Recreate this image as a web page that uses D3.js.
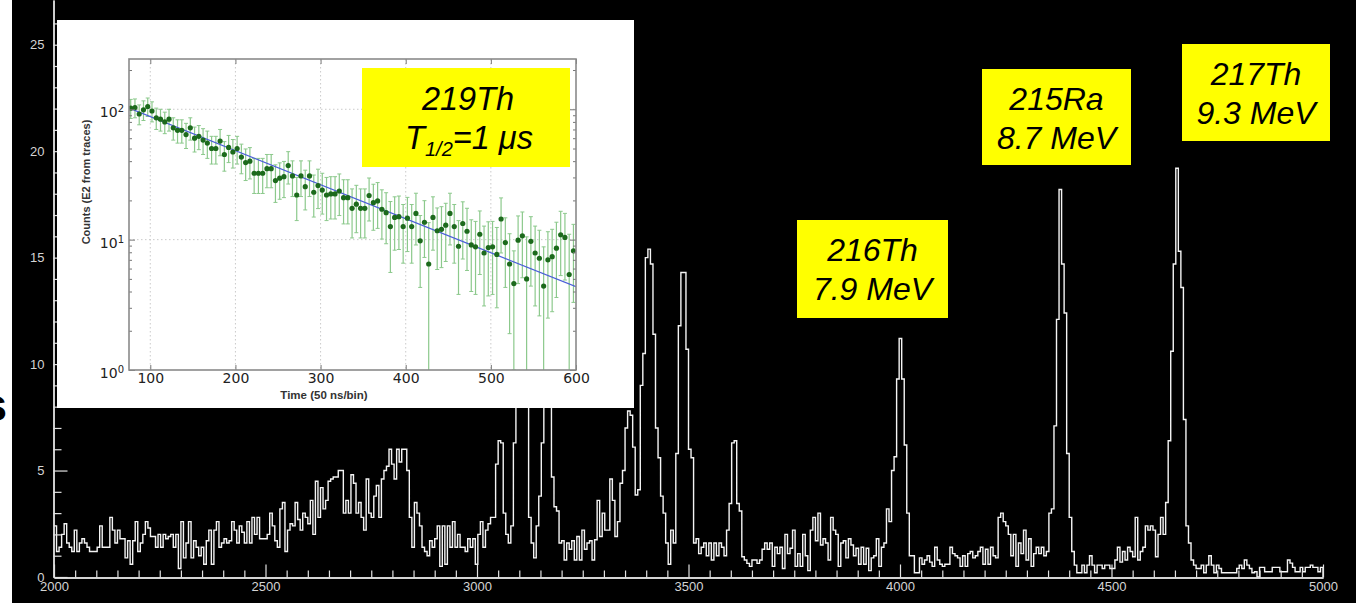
<!DOCTYPE html>
<html><head><meta charset="utf-8">
<script src="https://cdn.jsdelivr.net/npm/d3@7"></script>
<style>
html,body{margin:0;padding:0;background:#fff;}
svg{display:block;}
</style></head><body>
<svg id="chart" width="1356" height="603"></svg>
<script>
// ---- alpha energy spectrum (6 keV bins from 2000 to 5000) ----
const binStart = 2000;
const binWidth = 6;
const counts = [
  2.4,1.2,1.4,2.0,2.5,1.6,1.4,1.2,2.2,1.2,
  1.6,1.8,1.6,1.4,1.2,1.2,1.2,1.4,2.4,1.4,
  1.4,1.4,2.8,2.2,1.6,2.2,1.8,1.8,0.9,1.7,
  0.6,1.7,2.6,1.2,1.6,2.0,2.6,2.3,1.9,1.9,
  1.4,2.0,1.4,2.0,1.8,1.9,2.0,1.4,2.0,0.4,
  2.6,0.9,1.6,2.6,0.9,1.7,1.4,1.0,1.4,0.6,
  1.7,2.2,0.6,2.2,2.6,1.4,1.6,1.8,1.6,1.7,
  2.6,2.2,1.6,2.4,2.1,1.6,2.6,1.6,2.8,2.0,
  2.8,1.8,1.8,1.8,2.0,3.0,2.4,1.7,1.4,3.2,
  3.5,1.2,2.2,2.5,2.4,3.5,2.7,2.2,3.0,2.8,
  2.5,3.6,2.0,4.5,2.8,4.2,3.2,3.6,4.5,4.6,
  4.7,4.7,5.0,5.0,3.0,3.6,3.0,4.8,4.4,3.0,
  3.5,2.8,2.2,4.6,3.0,2.8,3.8,4.3,2.8,4.6,
  5.0,5.2,6.0,5.3,4.6,6.0,5.4,6.0,6.0,5.0,
  2.8,1.4,3.5,3.0,2.4,1.4,1.2,1.0,1.7,1.4,
  1.8,2.4,0.5,2.4,0.6,2.4,1.4,2.6,1.4,2.0,
  1.4,1.4,1.2,1.8,1.4,1.8,0.6,2.0,2.6,1.4,
  2.2,2.5,2.8,2.8,5.3,6.4,6.3,3.0,2.0,1.6,
  2.4,6.3,9.0,12.5,13.5,11.0,8.5,2.8,1.6,0.9,
  2.4,3.8,6.3,10.5,12.5,9.0,4.7,3.3,3.1,1.6,
  1.7,0.8,1.6,1.3,1.7,0.8,1.9,0.8,2.2,1.3,
  1.6,1.7,0.8,1.75,3.6,1.9,3.0,2.2,2.2,4.6,
  3.6,1.9,2.6,4.4,5.0,7.0,7.8,7.6,6.1,3.85,
  4.1,9.0,10.5,15.0,15.4,14.7,11.4,7.0,5.6,3.8,
  3.0,1.6,0.6,2.2,1.6,5.8,11.8,14.3,14.3,10.7,
  6.0,5.6,1.6,1.8,1.1,1.4,1.6,1.0,1.6,0.8,
  1.6,1.0,1.6,1.4,1.0,2.2,3.45,6.3,6.4,3.45,
  3.1,0.95,0.8,0.64,0.5,0.8,0.8,0.64,0.8,1.3,
  1.6,1.3,1.6,0.5,1.4,1.1,1.4,0.4,2.0,1.1,
  1.35,2.2,0.5,1.1,0.5,2.0,1.0,0.3,2.2,2.8,
  1.7,3.0,1.5,1.8,1.6,0.8,2.8,2.2,2.0,0.5,
  1.6,1.7,0.9,1.8,1.5,1.0,1.35,0.6,1.4,0.6,
  1.35,0.3,0.9,1.0,1.8,0.5,1.4,1.6,3.2,2.6,
  5.0,5.65,9.3,11.2,9.3,6.2,3.0,1.0,1.0,0.2,
  0.2,0.9,0.6,0.8,1.0,0.7,0.5,1.4,0.8,0.6,
  0.5,0.6,0.6,1.4,1.1,1.0,0.9,0.5,1.0,0.5,
  1.1,1.2,0.9,1.0,1.2,1.4,0.6,1.3,0.6,1.4,
  1.0,0.9,2.8,3.0,2.6,2.4,2.0,1.0,2.0,0.5,
  1.6,1.1,2.2,0.8,1.8,0.5,1.1,1.4,1.1,1.4,
  1.0,1.2,3.0,3.2,7.1,12.1,18.2,14.7,12.4,5.8,
  2.8,1.2,0.56,0.2,0.2,0.56,0.2,0.56,1.0,0.56,
  0.2,0.56,0.56,0.4,0.56,0.56,0.4,0.4,0.8,1.4,
  0.7,1.2,0.8,1.4,1.2,0.95,2.8,0.8,1.2,1.4,
  2.4,2.2,2.4,2.2,0.95,2.0,2.8,2.0,3.5,6.4,
  10.6,14.7,19.2,15.3,13.6,7.4,2.4,1.6,0.8,0.56,
  0.4,0.4,0.56,0.2,0.56,1.0,0.56,0.2,0.56,0.4,
  0.2,0.2,0.2,0.2,0.2,0.2,0.4,0.56,0.4,0.8,
  0.56,0.4,0.2,0.25,0,0.45,0.45,0.25,0.25,0.25,
  0.45,0.45,0.45,0.25,0.25,0.25,0.8,0.65,0.45,0.25,
  0.25,0.45,0.25,0.45,0.45,0.56,0.45,0.45,0.25,0.45
];
const xTicks = [2000, 2500, 3000, 3500, 4000, 4500, 5000];
const yTicks = [0, 5, 10, 15, 20, 25];

// ---- 219Th decay curve (inset) ----
const decayTime = [
  77,82,87,92,97,102,107,112,117,122,127,132,137,142,147,152,157,162,167,172,
  177,182,187,192,197,202,207,212,217,222,227,232,237,242,247,252,257,262,267,272,
  277,282,287,292,297,302,307,312,317,322,327,332,337,342,347,352,357,362,367,372,
  377,382,387,392,397,402,407,412,417,422,427,432,437,442,447,452,457,462,467,472,
  477,482,487,492,497,502,507,512,517,522,527,532,537,542,547,552,557,562,567,572,
  577,582,587,592,597
];
const decayCounts = [
  102,103,92,99,105,97,86,84,80,84,72,69,69,64,72,60,62,58,55,50,
  50,57,45,51,47,50,43,39,40,32.3,32.3,32.3,35,35,28.4,29.6,30.4,37,30.8,22,
  30.8,25.5,30.8,23.1,26,24,22,22.4,22.4,23.6,21,21,17.4,18.7,17.4,17.4,21.8,19.2,19.8,17.1,
  16.1,12.6,14.8,15,12.6,14.6,12.6,15.9,9.8,13.6,6.5,14.8,11.7,12,12.9,15.9,12.6,8.9,13.3,11.6,
  9.1,8.8,11,7.9,8.7,8.8,7.7,14.4,9.5,6.5,4.6,9.9,10.7,5,9.7,7.9,7.2,4.4,7,7.4,
  8.6,10.9,10.4,5.4,8.2
];
const decayErr = [
  17,17,16,17,17,17,16,16,15,16,14,14,14,14,14,13,13,13,13,12,
  12,13,11.5,12,11.6,12,11,10.6,10.8,9.7,9.7,9.7,10,10,9.1,9.2,9.4,10.3,9.4,8,
  9.4,8.6,9.4,8.2,8.7,8.3,8,8,8,8.3,7.8,7.8,7.1,7.4,7.1,7.1,7.9,7.4,7.6,7,
  6.8,7,6.5,6.6,6,6.5,6,6.8,5.5,6.3,7,6.5,5.8,5.9,6.1,6.8,6,5.1,6.2,5.8,
  5.1,5,5.6,4.8,5,5,4.7,6.5,5.2,4.6,3.6,5.3,5.6,5.5,5.3,4.8,4.6,4.4,4.5,4.6,
  5,5.6,5.5,5.6,4.9
];
const fitTime = [75, 600];
const fitCounts = [102, 4.35];
const insetXTicks = [100, 200, 300, 400, 500, 600];
const insetYTicks = [1, 10, 100];
const insetExponents = ["0", "1", "2"];

const W = 1356, H = 603;
const svg = d3.select("#chart");
const sans = "'Liberation Sans', Arial, sans-serif";

svg.append("rect").attr("width", W).attr("height", H).attr("fill", "#fff");
svg.append("rect").attr("x", 12).attr("y", 0).attr("width", W - 12).attr("height", H).attr("fill", "#000");
svg.append("text").attr("x", 7).attr("y", 421).attr("text-anchor", "end")
  .attr("font-family", sans).attr("font-weight", "bold").attr("font-size", 46)
  .attr("fill", "#000").text("s");

// ---- main spectrum ----
const x = d3.scaleLinear().domain([2000, 5000]).range([54, 1323]);
const y = d3.scaleLinear().domain([0, 27.1]).range([577, 0]);

const pts = counts.map((c, i) => [binStart + i * binWidth, c]);
pts.push([binStart + counts.length * binWidth, counts[counts.length - 1]]);
const step = d3.line().x(d => x(d[0])).y(d => y(d[1])).curve(d3.curveStepAfter);
svg.append("path").attr("d", step(pts) + "V" + y(0))
  .attr("fill", "none").attr("stroke", "#f4f4f4").attr("stroke-width", 1.4);

const axisColor = "#e2e2e2";
function styleAxis(g) {
  g.selectAll(".domain").attr("stroke", axisColor).attr("stroke-width", 1.4);
  g.selectAll(".tick line").attr("stroke", axisColor).attr("stroke-width", 1.2);
  g.selectAll(".tick text").attr("fill", "#d4d4d4").attr("font-family", sans).attr("font-size", 13);
}
// minor ticks
const yMinor = d3.range(0, 27, 1).filter(v => v % 5 !== 0);
const xMinor = d3.range(2000, 5001, 50).filter(v => v % 500 !== 0);
svg.append("g").attr("transform", "translate(53.5,0)")
  .call(d3.axisLeft(y).tickValues(yMinor).tickSizeInner(-8).tickSizeOuter(0).tickFormat(""))
  .call(styleAxis);
svg.append("g").attr("transform", "translate(0,577.5)")
  .call(d3.axisBottom(x).tickValues(xMinor).tickSizeInner(-7).tickSizeOuter(0).tickFormat(""))
  .call(styleAxis);
svg.append("g").attr("transform", "translate(53.5,0)")
  .call(d3.axisLeft(y).tickValues(yTicks).tickSizeInner(-14).tickSizeOuter(0).tickPadding(9).tickFormat(d3.format("d")))
  .call(styleAxis);
svg.append("g").attr("transform", "translate(0,577.5)")
  .call(d3.axisBottom(x).tickValues(xTicks).tickSizeInner(-13).tickSizeOuter(0).tickPadding(4).tickFormat(d3.format("d")))
  .call(styleAxis);

// ---- inset: decay curve ----
const inset = svg.append("g");
inset.append("rect").attr("x", 57).attr("y", 20).attr("width", 577).attr("height", 388).attr("fill", "#fff");
const ix = d3.scaleLinear().domain([75, 600]).range([129, 576]);
const iy = d3.scaleLog().domain([1, 243]).range([370, 59]);

// dotted grid
inset.append("g").selectAll("line").data([100, 200, 300, 400, 500]).join("line")
  .attr("x1", d => ix(d)).attr("x2", d => ix(d)).attr("y1", iy(243)).attr("y2", iy(1))
  .attr("stroke", "#c4c4c4").attr("stroke-width", 0.9).attr("stroke-dasharray", "1.5,2.5");
inset.append("g").selectAll("line").data([10, 100]).join("line")
  .attr("y1", d => iy(d)).attr("y2", d => iy(d)).attr("x1", ix(75)).attr("x2", ix(600))
  .attr("stroke", "#c4c4c4").attr("stroke-width", 0.9).attr("stroke-dasharray", "1.5,2.5");

inset.append("clipPath").attr("id", "insetClip").append("rect")
  .attr("x", ix(75)).attr("y", iy(243)).attr("width", ix(600) - ix(75)).attr("height", iy(1) - iy(243));
const plot = inset.append("g").attr("clip-path", "url(#insetClip)");

const rows = decayTime.map((t, i) => ({ t, c: decayCounts[i], e: decayErr[i] }));
const lo = d => Math.max(d.c - d.e, 0.5);
plot.append("g").selectAll("line").data(rows).join("line")
  .attr("x1", d => ix(d.t)).attr("x2", d => ix(d.t))
  .attr("y1", d => iy(lo(d))).attr("y2", d => iy(d.c + d.e))
  .attr("stroke", "#8cc98c").attr("stroke-width", 1.2);
plot.append("g").selectAll("path").data(rows).join("path")
  .attr("d", d => `M${ix(d.t) - 2},${iy(lo(d))}h4M${ix(d.t) - 2},${iy(d.c + d.e)}h4`)
  .attr("stroke", "#8cc98c").attr("stroke-width", 1);
plot.append("path")
  .attr("d", d3.line().x(d => ix(d[0])).y(d => iy(d[1]))(fitTime.map((t, i) => [t, fitCounts[i]])))
  .attr("fill", "none").attr("stroke", "#4a5ed8").attr("stroke-width", 1.3);
plot.append("g").selectAll("circle").data(rows).join("circle")
  .attr("cx", d => ix(d.t)).attr("cy", d => iy(d.c)).attr("r", 2.6).attr("fill", "#1c6a1c");

// inset axes
const insetFont = "'DejaVu Sans', sans-serif";
const minorY = [2,3,4,5,6,7,8,9,20,30,40,50,60,70,80,90,200];
function tickStyle(g) {
  g.select(".domain").remove();
  g.selectAll(".tick line").attr("stroke", "#777").attr("stroke-width", 1);
  g.selectAll(".tick text").attr("fill", "#222").attr("font-family", insetFont).attr("font-size", 14);
}
inset.append("g").attr("transform", `translate(0,${iy(1)})`)
  .call(d3.axisBottom(ix).tickValues(insetXTicks).tickSizeInner(-5).tickSizeOuter(0).tickPadding(3).tickFormat(d3.format("d")))
  .call(tickStyle);
inset.append("g").attr("transform", `translate(0,${iy(243)})`)
  .call(d3.axisTop(ix).tickValues(insetXTicks).tickSizeInner(-5).tickSizeOuter(0).tickFormat(""))
  .call(tickStyle);
const yl = inset.append("g").attr("transform", `translate(${ix(75)},0)`)
  .call(d3.axisLeft(iy).tickValues(insetYTicks).tickSizeInner(-6).tickSizeOuter(0).tickPadding(4).tickFormat(""))
  .call(tickStyle);
yl.selectAll(".tick text").each(function(d, i) {
  const t = d3.select(this).attr("dy", "0.55em").attr("x", -5);
  t.append("tspan").text("10");
  t.append("tspan").attr("dy", "-0.5em").attr("font-size", 10).text(insetExponents[i]);
});
inset.append("g").attr("transform", `translate(${ix(75)},0)`)
  .call(d3.axisLeft(iy).tickValues(minorY).tickSizeInner(-3).tickSizeOuter(0).tickFormat(""))
  .call(tickStyle);
inset.append("g").attr("transform", `translate(${ix(600)},0)`)
  .call(d3.axisRight(iy).tickValues(insetYTicks).tickSizeInner(-6).tickSizeOuter(0).tickFormat(""))
  .call(tickStyle);
inset.append("g").attr("transform", `translate(${ix(600)},0)`)
  .call(d3.axisRight(iy).tickValues(minorY).tickSizeInner(-3).tickSizeOuter(0).tickFormat(""))
  .call(tickStyle);

inset.append("rect").attr("x", ix(75)).attr("y", iy(243)).attr("width", ix(600) - ix(75)).attr("height", iy(1) - iy(243))
  .attr("fill", "none").attr("stroke", "#8a8a8a").attr("stroke-width", 1.6);

inset.append("text").attr("x", 324).attr("y", 399).attr("text-anchor", "middle")
  .attr("font-family", sans).attr("font-weight", "bold").attr("font-size", 11.5).attr("fill", "#333")
  .text("Time (50 ns/bin)");
inset.append("text").attr("transform", "translate(90,182) rotate(-90)").attr("text-anchor", "middle")
  .attr("font-family", sans).attr("font-weight", "bold").attr("font-size", 11).attr("fill", "#333")
  .text("Counts (E2 from traces)");

// ---- yellow labels ----
function labelBox(bx, by, bw, bh, build) {
  const g = svg.append("g");
  g.append("rect").attr("x", bx).attr("y", by).attr("width", bw).attr("height", bh).attr("fill", "#ffff00");
  build(g, bx + bw / 2);
}
const boxFont = g => g.attr("font-family", sans).attr("font-style", "italic").attr("font-size", 32)
  .attr("fill", "#000").attr("text-anchor", "middle");

labelBox(362, 68, 208, 99, (g, cx) => {
  g.append("text").attr("x", cx + 2).attr("y", 110).call(boxFont).attr("font-size", 32.5).text("219Th");
  const t = g.append("text").attr("x", cx + 3).attr("y", 149).call(boxFont).attr("font-size", 32.5);
  t.append("tspan").text("T");
  t.append("tspan").attr("font-size", 20).attr("dy", 7).text("1/2");
  t.append("tspan").attr("dy", -7).text("=1 \u03bcs");
});
labelBox(797, 220, 151, 98, (g, cx) => {
  g.append("text").attr("x", cx).attr("y", 261).call(boxFont).text("216Th");
  g.append("text").attr("x", cx).attr("y", 300).call(boxFont).text("7.9 MeV");
});
labelBox(982, 69, 149, 96, (g, cx) => {
  g.append("text").attr("x", cx).attr("y", 110).call(boxFont).text("215Ra");
  g.append("text").attr("x", cx).attr("y", 149).call(boxFont).text("8.7 MeV");
});
labelBox(1182, 44, 148, 97, (g, cx) => {
  g.append("text").attr("x", cx).attr("y", 85).call(boxFont).text("217Th");
  g.append("text").attr("x", cx).attr("y", 124).call(boxFont).text("9.3 MeV");
});
</script>
</body></html>
